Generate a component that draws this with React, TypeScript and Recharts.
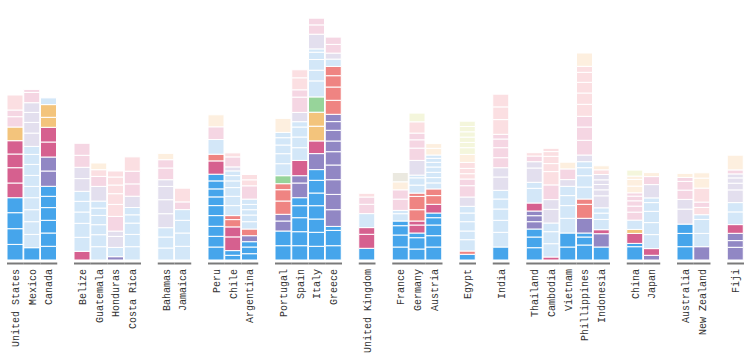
import React from "react";
import { BarChart, Bar, XAxis, YAxis, Cell } from "recharts";

// colour key per segment kind
const palette: Record<string, string> = {
	B: "#46a5eb", // blue
	L: "#d3e7f8", // light blue
	M: "#d6608f", // magenta
	V: "#e3dfee", // lavender
	P: "#f5d6e3", // pink
	K: "#fbdfe2", // rose
	O: "#f3c47c", // orange
	U: "#9187c4", // purple
	R: "#ef8482", // red
	G: "#97d49a", // green
	C: "#fdefdf", // cream
	Y: "#f4f6dc", // pale yellow
	A: "#ebe9e0", // pale grey
};

const regions: string[][] = [
	["United States", "Mexico", "Canada"],
	["Belize", "Guatemala", "Honduras", "Costa Rica"],
	["Bahamas", "Jamaica"],
	["Peru", "Chile", "Argentina"],
	["Portugal", "Spain", "Italy", "Greece"],
	["United Kingdom"],
	["France", "Germany", "Austria"],
	["Egypt"],
	["India"],
	["Thailand", "Cambodia", "Vietnam", "Phillippines", "Indonesia"],
	["China", "Japan"],
	["Australia", "New Zealand"],
	["Fiji"],
];

// segment kinds, bottom to top, one string per country (same order as regions)
const segmentKinds: string[] = [
	"BBBBMMMMOPPK",
	"BLLLLLLLLLVVVVPP",
	"BBBBBBUUMMOOL",
	"MLLLLLVVPP",
	"LLLLLLVPKC",
	"ULVVPKKKKK",
	"LLLLLVPPK",
	"LLLVVVVPPC",
	"LLLLPK",
	"BBBBBBBBBMRLPC",
	"BBMMRRLLLLLLVPK",
	"BBBURLLLLLPKK",
	"BBUURRRGLLLLLC",
	"BBBBBUUMLLLLVPPKK",
	"BBBBBBBUMOOGLLLLLVPP",
	"BBBUUUUUUUUURRRRLVPP",
	"BMMLPPK",
	"BBBBLLPPCA",
	"BBBMMRRRLLLVPPPKY",
	"BBBBBMRRLLLLLLLCC",
	"BRLLLLLVPPKKKCYYYYYY",
	"BLLLLLVVPPPPKKK",
	"BBBUUUMLLVVPK",
	"MLLLVVPKKKKK",
	"BBLLLLVPC",
	"BBBURRLLLLVPPPKKKKKC",
	"BUMLLLVVVVVKC",
	"BBMOLPPPPPCCCY",
	"UMLLLLLVPC",
	"BBBVVPPPC",
	"ULLLKPKCC",
	"UUUMLLVVVVPC",
];

// segment sizes, bottom to top
const segmentValues: number[][] = [
	[15.6, 15.7, 16, 15, 14.7, 15.3, 13.7, 13.3, 13.7, 10.3, 6.7, 15],
	[12.3, 13.3, 12.7, 12, 12, 11.3, 11, 11, 10, 8, 13.3, 10.7, 10, 9.7, 10.3, 3],
	[13.7, 13.3, 12.7, 12.7, 11.3, 10, 15.3, 14, 15, 14.7, 10, 12.7, 6.7],
	[8.7, 14, 14, 11.3, 10.7, 10, 12.7, 11.3, 12, 12],
	[13.3, 12, 10, 9.3, 7.3, 7, 14.7, 10, 6.7, 6.7],
	[3.3, 9.3, 11, 5.3, 14.7, 12, 10.7, 8.7, 8, 6],
	[13.3, 12.3, 11.3, 8.3, 7.3, 11.3, 12.3, 12.7, 14.3],
	[12, 11, 9.3, 14, 14, 13.3, 6.7, 11.7, 8.3, 6.3],
	[13.7, 13.3, 12.7, 10.7, 7.7, 13.7],
	[13, 10.7, 10, 10.7, 10, 8.7, 8, 8, 6.7, 13.3, 6.7, 14.7, 12.7, 12],
	[4.7, 4.7, 13.7, 10, 7.3, 4, 10, 9.3, 8.7, 6.7, 5.3, 4.7, 4, 10, 4],
	[6.3, 6.7, 5.3, 6, 6.7, 7.3, 6.7, 5.3, 5.3, 5.3, 13.3, 6, 5.3],
	[14.3, 14.7, 10, 6.7, 13.3, 11.3, 6, 8, 12, 10, 8.7, 7.3, 5.3, 14],
	[14.3, 14, 14, 12, 8, 14.7, 7.3, 15.3, 12.7, 10.7, 10, 5.3, 9.3, 15.3, 7.3, 12, 8],
	[13.7, 14, 13.3, 13.3, 12.7, 12.7, 10.7, 16, 12.7, 14.7, 14, 15.3, 16, 10.7, 10.7, 7.3, 3.3, 14.7, 9.3, 6.7],
	[14.3, 15.3, 4, 16.7, 15.3, 14.7, 14.7, 13.3, 10.7, 10.7, 8.7, 7.3, 14, 13.3, 11.3, 9.3, 7.3, 6, 8.7, 7.3],
	[11.7, 14, 6.7, 14, 9.3, 7.3, 3.7],
	[13, 12, 9.3, 4.7, 7.3, 3.3, 11.3, 9.3, 8, 9.3],
	[11, 11.3, 4.7, 8, 4, 11.3, 13.3, 3.3, 8, 7.3, 2.7, 14.7, 12.3, 8.3, 6.7, 11.3, 8.7],
	[13, 11.3, 10.7, 7.3, 4.7, 8.7, 8.7, 6.7, 6, 5.3, 5.3, 5.3, 4.7, 4, 3.3, 6.7, 4.7],
	[5.7, 3.3, 11.3, 8.7, 9.3, 8.7, 6.7, 9.3, 11.3, 6.7, 5.3, 5.3, 6, 8, 6.7, 5.3, 5.3, 5.3, 5.3, 5.3],
	[13, 14.7, 12, 11.3, 10, 8.7, 13.3, 9.3, 10, 10, 8.7, 4.7, 14.7, 12.7, 12.7],
	[12.3, 10.7, 8, 7.3, 6, 4.7, 8, 14.7, 6, 14.3, 6.3, 5.7, 3.3],
	[3, 13.3, 12, 8.7, 13.7, 9.7, 14.7, 13.3, 8, 7.3, 4.7, 3.3],
	[13, 14, 14.7, 12.7, 10, 9.3, 6.7, 10.7, 6.7],
	[15, 8, 4, 14.7, 14, 5.3, 12, 11.3, 8, 6, 6.7, 14.7, 13.3, 10.7, 12, 11.3, 10.7, 10, 6, 13.3],
	[13, 13.3, 4, 10.3, 6.3, 5.3, 12, 6, 5.3, 4.7, 5.3, 4.7, 4],
	[13.3, 3.3, 10, 4, 9.3, 8, 6, 5.3, 4.7, 3.3, 6.7, 6.7, 3.3, 6],
	[4.7, 6.7, 14, 12, 11.3, 8.7, 4.7, 13.3, 8, 4],
	[13.3, 13.3, 9.3, 15, 9.7, 9.3, 8.7, 4, 4],
	[13.3, 13.3, 14, 4.7, 7.3, 5.3, 14, 10, 5.3],
	[12.7, 6.7, 7.3, 8.7, 12.7, 9.3, 12.7, 6.7, 5.3, 4, 4, 14.7],
];

const W = 750;
const H = 359;
const margin = { top: 0, right: 6, left: 7, bottom: 0 };
const maxSegs = Math.max(...segmentValues.map((v) => v.length));

type Row = { name: string; kinds: string; [k: string]: any };

const rows: Row[] = [];
let ci = 0;
regions.forEach((names, gi) => {
	if (gi > 0) rows.push({ name: `gap${gi}`, kinds: "" });
	names.forEach((name) => {
		const row: Row = { name, kinds: segmentKinds[ci] };
		segmentValues[ci].forEach((v, si) => {
			row[`s${si}`] = v;
		});
		rows.push(row);
		ci++;
	});
});

const slot = (W - margin.left - margin.right) / rows.length;

const GroupTick = (props: any) => {
	const { x, y, payload } = props;
	const label: string = payload.value;
	if (label.startsWith("gap")) return <g />;
	const ty = y + 7;
	return (
		<g>
			<line x1={x - slot / 2} x2={x + slot / 2} y1={y + 1.5} y2={y + 1.5} stroke="#7a7a7a" strokeWidth={2} />
			<text
				x={x}
				y={ty}
				transform={`rotate(-90 ${x} ${ty})`}
				textAnchor="end"
				dy="0.35em"
				fontFamily="'Liberation Mono', 'Courier New', monospace"
				fontSize={10}
				fill="#333"
			>
				{label}
			</text>
		</g>
	);
};

export default function App() {
	return (
		<div style={{ position: "absolute", left: 0, top: 0, width: W, height: H, background: "#fff" }}>
			<BarChart width={W} height={H} data={rows} margin={margin} barSize={16}>
				<XAxis
					dataKey="name"
					interval={0}
					tickLine={false}
					axisLine={false}
					tickSize={0}
					height={99}
					tick={GroupTick}
				/>
				<YAxis hide domain={[0, 260]} />
				{Array.from({ length: maxSegs }, (_, si) => (
					<Bar
						key={si}
						dataKey={`s${si}`}
						stackId="a"
						stroke="#fff"
						strokeWidth={1}
						isAnimationActive={false}
					>
						{rows.map((r, ri) => (
							<Cell key={ri} fill={palette[r.kinds[si]] || "transparent"} />
						))}
					</Bar>
				))}
			</BarChart>
		</div>
	);
}
